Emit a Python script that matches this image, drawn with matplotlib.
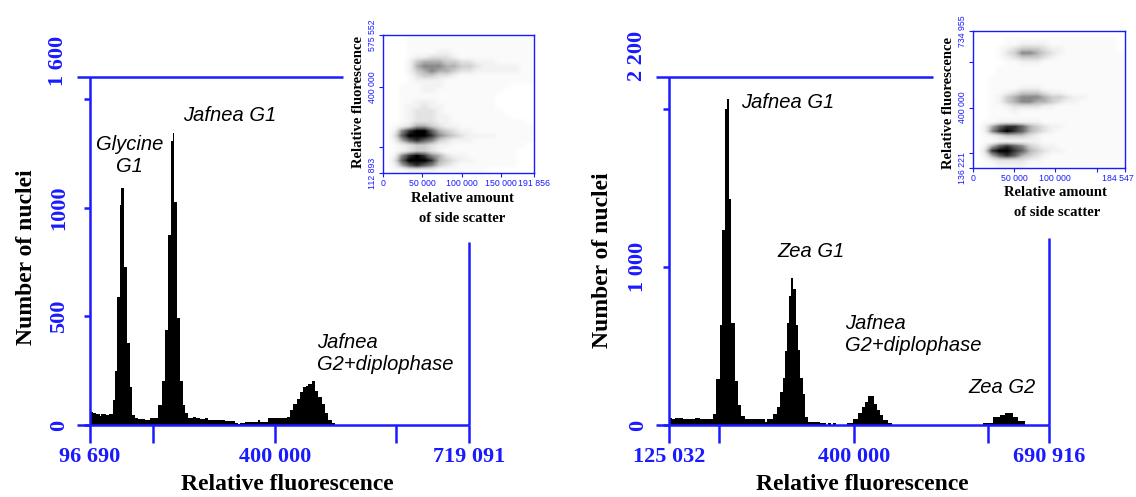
import numpy as np
import matplotlib.pyplot as plt
from matplotlib.colors import PowerNorm
from matplotlib.transforms import ScaledTranslation

plt.rcParams['font.family'] = 'Liberation Serif'

# histogram of the left sample (Glycine + Jafnea): bin edges (relative fluorescence) and counts
left_edges = [96690, 101617, 107035, 113112, 115575, 122965, 127892, 134461, 137253, 141523,
              145464, 148419, 152525, 157944, 161885, 165662, 170096, 175516, 187011, 195222,
              200641, 208852, 214435, 219855, 225274, 229708, 232500, 235117, 239058, 244478,
              248912, 252689, 258108, 265837, 270763, 277332, 285543, 290470, 298681, 310176,
              318387, 326598, 334809, 340228, 343020, 351231, 373073, 375864, 389495, 420203,
              425130, 430549, 436133, 441552, 446971, 451405, 455511, 460766, 466185, 471604,
              477188, 482607, 488026, 493610, 499029]
left_counts = [60, 55, 50, 40, 50, 45, 52, 113, 250, 590,
               1010, 1090, 725, 377, 173, 45, 30, 28, 25, 33,
               33, 90, 204, 438, 875, 1305, 1343, 1027, 490, 204,
               90, 54, 33, 38, 30, 28, 32, 25, 22, 23,
               18, 20, 10, 5, 10, 15, 25, 15, 30, 38,
               68, 98, 121, 151, 173, 181, 190, 204, 158, 128,
               98, 53, 23, 10]

# histogram of the right sample (Jafnea + Zea)
right_edges = [125032, 129500, 133968, 145881, 156305, 163751, 171197, 190557, 195471, 200534,
               203960, 207980, 211406, 213938, 217810, 222873, 227787, 231808, 237765, 267995,
               270527, 280356, 285419, 290333, 294354, 297779, 300311, 304183, 306268, 310139,
               313713, 317585, 320117, 324138, 327563, 332477, 349901, 358836, 361815, 366282,
               369261, 373729, 389663, 399492, 406938, 412001, 416915, 421829, 430764, 435232,
               439253, 444167, 451613, 456676, 593088, 607980, 617958, 625403, 637764, 645210,
               655187]
right_counts = [45, 35, 45, 40, 35, 45, 40, 72, 290, 632,
                1232, 1998, 2060, 1429, 642, 280, 124, 60, 35, 20,
                41, 72, 114, 207, 300, 466, 642, 818, 932, 859,
                632, 476, 300, 197, 52, 20, 10, 0, 10, 0,
                10, 0, 10, 41, 76, 114, 145, 186, 135, 97,
                62, 33, 15, 0, 15, 52, 66, 76, 52, 25]

left_xlim = (96690, 719091)
left_xticks = [96690, 200000, 400000, 600000, 719091]
left_xlabels = ['96 690', '', '400 000', '', '719 091']
left_ylim = (0, 1600)
left_yticks = [0, 500, 1000, 1500]
left_ylabels = ['0', '500', '1000', '']

right_xlim = (125032, 690916)
right_xticks = [125032, 200000, 400000, 600000, 690916]
right_xlabels = ['125 032', '', '400 000', '', '690 916']
right_ylim = (0, 2200)
right_yticks = [0, 1000, 2000]
right_ylabels = ['0', '1 000', '']

# inset scatter plots, read as a coarse density grid (0 = empty .. 9 = darkest), top row first
left_in_xlim = (0, 191856)
left_in_ylim = (112893, 575552)
left_in_xticks = [0, 50000, 100000, 150000, 191856]
left_in_xlabels = ['0', '50 000', '100 000', '150 000', '191 856']
left_in_yticks = [112893, 200000, 400000, 575552]
left_in_ylabels = ['112 893', '', '400 000', '575 552']
left_density = [
    "00011111111111111111",
    "00011111111111111111",
    "00011111111111111111",
    "00011112211111111111",
    "00012233321111111111",
    "00024555443322211111",
    "00025666554432222211",
    "00024565543322222211",
    "00013443321111111111",
    "00012222111111111111",
    "00111222111111111000",
    "00111221111111110000",
    "00111111111111100000",
    "00112221111111100000",
    "00122322111111100000",
    "00123332111111110000",
    "00123332211111111000",
    "00123332211111111110",
    "01235543221111111111",
    "02689975432211111111",
    "03799986543222211111",
    "02578764322211111111",
    "01234432211111111110",
    "01234432111111111100",
    "02689865322111111100",
    "03799985432211111100",
    "02578764321111111100",
    "01122221111111000000",
]

right_in_xlim = (0, 184547)
right_in_ylim = (136221, 734955)
right_in_xticks = [0, 50000, 100000, 150000, 184547]
right_in_xlabels = ['0', '50 000', '100 000', '', '184 547']
right_in_yticks = [136221, 200000, 400000, 600000, 734955]
right_in_ylabels = ['136 221', '', '400 000', '', '734 955']
right_density = [
    "00000000000000000000",
    "00001111111111111110",
    "00001122221111111110",
    "00012344432211111110",
    "00013466543211111111",
    "00012344432111111111",
    "00001122211111111111",
    "00011111111111111111",
    "00011111111111111111",
    "00111111111111111111",
    "00111111111111111111",
    "00111122211111111111",
    "00112344432211111111",
    "00124566654432211111",
    "00124566554322111111",
    "00112333322111111111",
    "00111211111111111111",
    "00111111111111111111",
    "01122222211111111111",
    "02578875432211111111",
    "02689875432111111111",
    "01234443211111111111",
    "01122222211111111111",
    "02578764322111111111",
    "03899875432211111111",
    "02578754321111111111",
    "01233332211111111111",
    "01122221111111111111",
]

BLUE = '#1a1aff'
W, H = 1136, 497
fig = plt.figure(figsize=(W / 100, H / 100), dpi=100)


def px_axes(x0, y0, x1, y1):
    return fig.add_axes([x0 / W, 1 - y1 / H, (x1 - x0) / W, (y1 - y0) / H])


def ftext(px, py, s, **kw):
    fig.text(px / W, 1 - py / H, s, ha='center', va='center', **kw)


def main_panel(ax, edges, counts, xlim, ylim, xticks, xlabels, yticks, ylabels, top_end, right_start):
    ax.stairs(counts, edges, fill=True, color='black', lw=0)
    ax.set_xlim(xlim)
    ax.set_ylim(ylim)
    for s in ax.spines.values():
        s.set_visible(False)
    wpx = ax.get_position().width * W
    ext = -13 / wpx
    kw = dict(transform=ax.transAxes, color=BLUE, lw=1.8, clip_on=False, solid_capstyle='butt')
    ax.plot([ext, 1], [0, 0], **kw)
    ax.plot([0, 0], [0, 1], **kw)
    ax.plot([ext, top_end], [1, 1], **kw)
    ax.plot([1, 1], [0, right_start], **kw)
    ax.set_xticks(xticks)
    ax.set_xticklabels(xlabels, fontweight='bold')
    ax.set_yticks(yticks)
    ax.set_yticklabels(ylabels, fontweight='bold', rotation=90, va='center')
    ax.tick_params(axis='x', direction='out', length=13, width=1.8, color=BLUE,
                   labelcolor=BLUE, labelsize=16, pad=3)
    ax.tick_params(axis='y', direction='out', length=4, width=1.8, color=BLUE,
                   labelcolor=BLUE, labelsize=16, pad=11)
    ax.patch.set_alpha(0)


def inset(ax, grid, xlim, ylim, xticks, xlabels, yticks, ylabels):
    d = np.array([[int(c) for c in row] for row in grid])
    ax.imshow(d, cmap='Greys', norm=PowerNorm(gamma=1.5, vmin=0, vmax=9),
              interpolation='bilinear', aspect='auto',
              extent=(xlim[0], xlim[1], ylim[0], ylim[1]))
    ax.set_xlim(xlim)
    ax.set_ylim(ylim)
    for s in ax.spines.values():
        s.set_color(BLUE)
        s.set_linewidth(1)
    ax.set_xticks(xticks)
    ax.set_xticklabels(xlabels, family='Liberation Sans')
    ax.set_yticks(yticks)
    ax.set_yticklabels(ylabels, family='Liberation Sans', rotation=90, va='center')
    ax.tick_params(direction='out', length=3, width=0.8, color=BLUE, labelcolor=BLUE,
                   labelsize=6.3, pad=1.5)


# left panel
ax1 = px_axes(90, 77, 469, 425)
main_panel(ax1, left_edges, left_counts, left_xlim, left_ylim, left_xticks, left_xlabels,
           left_yticks, left_ylabels, top_end=(343 - 90) / 379, right_start=(425 - 242) / 348)
ann = dict(fontfamily='Liberation Sans', style='italic', fontsize=14.5)
ax1.text(162000, 1239, 'Glycine\nG1', ha='center', va='center', linespacing=1.2, **ann)
ax1.text(249400, 1421, 'Jafnea G1', ha='left', va='center', **ann)
ax1.text(469500, 331, 'Jafnea\nG2+diplophase', ha='left', va='center', linespacing=1.2, **ann)

# right panel
ax2 = px_axes(669, 77, 1049, 425)
main_panel(ax2, right_edges, right_counts, right_xlim, right_ylim, right_xticks, right_xlabels,
           right_yticks, right_ylabels, top_end=(933 - 669) / 380, right_start=(425 - 238) / 348)
ax2.text(232250, 2036, 'Jafnea G1', ha='left', va='center', **ann)
ax2.text(285900, 1094, 'Zea G1', ha='left', va='center', **ann)
ax2.text(387100, 569, 'Jafnea\nG2+diplophase', ha='left', va='center', linespacing=1.2, **ann)
ax2.text(570200, 234, 'Zea G2', ha='left', va='center', **ann)

# top y labels sit above the frame
ftext(58, 61, '1 600', rotation=90, color=BLUE, fontsize=16, fontweight='bold')
ftext(637, 56, '2 200', rotation=90, color=BLUE, fontsize=16, fontweight='bold')

# axis titles
lab = dict(fontsize=17, fontweight='bold')
ftext(287, 484, 'Relative fluorescence', **lab)
ftext(862, 484, 'Relative fluorescence', **lab)
ftext(27, 257, 'Number of nuclei', rotation=90, **lab)
ftext(602, 260, 'Number of nuclei', rotation=90, **lab)

# insets
ax3 = px_axes(383, 35, 534, 173)
inset(ax3, left_density, left_in_xlim, left_in_ylim, left_in_xticks, left_in_xlabels,
      left_in_yticks, left_in_ylabels)
ax4 = px_axes(973, 31, 1125, 168)
inset(ax4, right_density, right_in_xlim, right_in_ylim, right_in_xticks, right_in_xlabels,
      right_in_yticks, right_in_ylabels)
# keep the last side-scatter label inside the picture
last = ax4.get_xticklabels()[-1]
last.set_ha('right')
last.set_transform(last.get_transform() + ScaledTranslation(9 / 100, 0, fig.dpi_scale_trans))

ilab = dict(fontsize=10.5, fontweight='bold')
ftext(358, 102, 'Relative fluorescence', rotation=90, **ilab)
ftext(462, 198, 'Relative amount', **ilab)
ftext(462, 218, 'of side scatter', **ilab)
ftext(948, 103, 'Relative fluorescence', rotation=90, **ilab)
ftext(1055, 193, 'Relative amount', **ilab)
ftext(1057, 213, 'of side scatter', **ilab)

fig.savefig('out.png', dpi=100)
